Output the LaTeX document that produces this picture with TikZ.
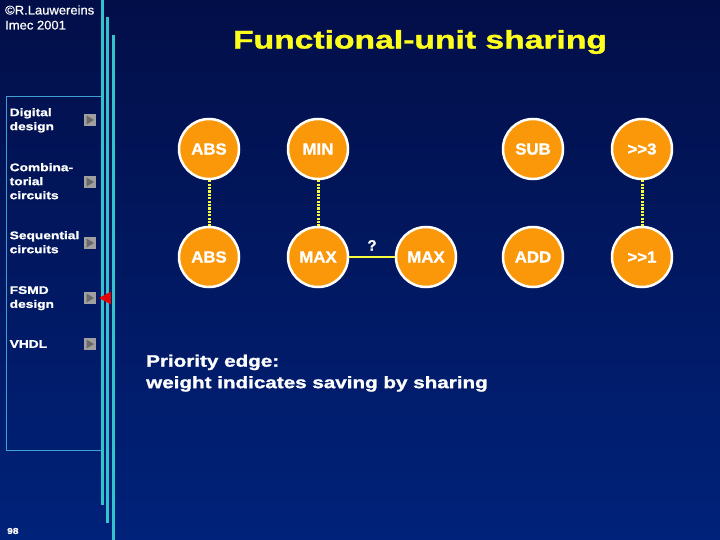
\documentclass[tikz,border=0pt]{standalone}
\usepackage{fontspec}
\setmainfont{Liberation Sans}
\newfontfamily\bfont[FakeBold=1.2]{Liberation Sans Bold}
\newfontfamily\hfont[FakeBold=0.6]{Liberation Sans}
\usetikzlibrary{shapes.geometric,calc}
\definecolor{bgtop}{RGB}{2,14,72}
\definecolor{bgbot}{RGB}{0,34,122}
\definecolor{cyanline}{RGB}{50,195,205}
\definecolor{panelline}{RGB}{60,160,210}
\definecolor{fu}{RGB}{250,152,10}
\definecolor{titley}{RGB}{255,255,30}
\definecolor{edgey}{RGB}{250,250,60}
\definecolor{iconbg}{RGB}{160,160,160}
\definecolor{icontri}{RGB}{105,105,105}
\newcommand{\wstr}[2]{\scalebox{#1}[1]{#2}}
\tikzset{
  fun/.style={circle,fill=fu,draw=white,line width=2.5pt,minimum size=60pt,inner sep=0pt,
    text=white,font=\bfont\fontsize{16}{16}\selectfont},
  menu/.style={anchor=north west,align=left,text=white,inner sep=0pt,
    font=\bfont\fontsize{11}{14}\selectfont},
  share/.style={edgey,line width=3pt,dash pattern=on 2.2pt off 1.2pt},
  prio/.style={edgey,line width=2.2pt},
  vline/.style={cyanline,line width=3pt},
}
\begin{document}
\begin{tikzpicture}[x=1pt,y=-1pt]
\useasboundingbox (0,0) rectangle (720,540);
\shade[top color=bgtop,bottom color=bgbot] (0,0) rectangle (720,540);
% panel
\draw[panelline,line width=1pt] (101,97) -- (6,97) -- (6,450.5) -- (101,450.5);
% vertical lines
\draw[vline] (102.3,0) -- (102.3,505);
\draw[vline] (107.6,17) -- (107.6,523);
\draw[vline] (113.2,35) -- (113.2,540);
% header
\node[anchor=west,text=white,inner sep=0pt,align=left,font=\hfont\fontsize{12.5}{15}\selectfont] (hdr) at (5,17.5)
  {\wstr{1.04}{\textcopyright R.Lauwereins}\\\wstr{1.04}{Imec 2001}};
\node[text=titley,inner sep=0pt,font=\bfont\fontsize{25.5}{25}\selectfont] (title) at (420,42)
  {\wstr{1.32}{Functional-unit sharing}};
% menu
\node[menu] (m1) at (9.5,108) {\wstr{1.25}{Digital}\\\wstr{1.25}{design}};
\node[menu] (m2) at (9.5,163) {\wstr{1.25}{Combina-}\\\wstr{1.25}{torial}\\\wstr{1.25}{circuits}};
\node[menu] (m3) at (9.5,231) {\wstr{1.25}{Sequential}\\\wstr{1.25}{circuits}};
\node[menu] (m4) at (9.5,286) {\wstr{1.25}{FSMD}\\\wstr{1.25}{design}};
\node[menu] (m5) at (9.5,340) {\wstr{1.25}{VHDL}};
\foreach \n/\y in {i1/120,i2/182,i3/243,i4/298,i5/344}{
  \node[fill=iconbg,minimum size=11.5pt,inner sep=0pt] (\n) at (90,\y) {};
  \fill[icontri] ($(\n.center)+(-3.5,-4.5)$) -- ($(\n.center)+(4,0)$) -- ($(\n.center)+(-3.5,4.5)$) -- cycle;
}
\coordinate (rt) at (99,298);
\fill[red!90!black] (rt) -- ++(12,-6.5) -- ++(0,13) -- cycle;
% functional units
\node[fun] (abs1) at (209,149) {\wstr{1.05}{ABS}};
\node[fun] (min)  at (318,149) {\wstr{1.05}{MIN}};
\node[fun] (sub)  at (533,149) {\wstr{1.05}{SUB}};
\node[fun] (sh3)  at (642,149) {\wstr{1.05}{>{}>3}};
\node[fun] (abs2) at (209,257) {\wstr{1.05}{ABS}};
\node[fun] (max1) at (318,257) {\wstr{1.05}{MAX}};
\node[fun] (max2) at (426,257) {\wstr{1.05}{MAX}};
\node[fun] (add)  at (533,257) {\wstr{1.05}{ADD}};
\node[fun] (sh1)  at (642,257) {\wstr{1.05}{>{}>1}};
% edges
\draw[share] (abs1) -- (abs2);
\draw[share] (min) -- (max1);
\draw[share] (sh3) -- (sh1);
\draw[prio] (max1) -- node[above=2pt,text=white,font=\bfont\fontsize{15}{15}\selectfont] (q) {?} (max2);
% note
\node[anchor=north west,align=left,text=white,inner sep=0pt,font=\bfont\fontsize{16.5}{21.5}\selectfont] (note) at (146,354.5)
  {\wstr{1.25}{Priority edge:}\\\wstr{1.25}{weight indicates saving by sharing}};
\node[anchor=west,text=white,inner sep=0pt,font=\bfont\fontsize{8.5}{8}\selectfont] (pg) at (7,531) {\wstr{1.2}{98}};
\end{tikzpicture}
\end{document}
